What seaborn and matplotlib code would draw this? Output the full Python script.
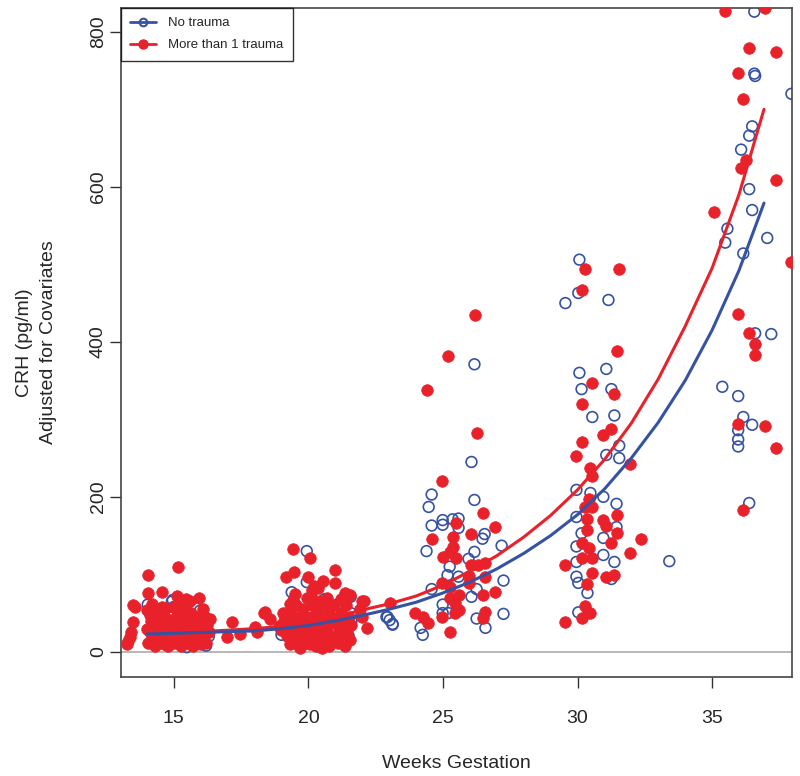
import matplotlib
matplotlib.use("Agg")
import matplotlib.pyplot as plt
from matplotlib.lines import Line2D
import numpy as np
import pandas as pd
import seaborn as sns

# ---- observed points (weeks, CRH) ----
weeks_no = [14.03, 14.96, 14.93, 15.97, 15.93, 15.48, 15.0, 14.5, 16.3, 16.2, 15.2, 14.6,
            19.94, 19.38, 19.94, 20.6, 21.12, 21.57, 22.9, 23.02, 23.13, 20.6, 19.0, 20.0,
            21.5, 21.6, 21.58, 20.9, 22.94, 23.13,
            26.17, 24.58, 24.47, 26.17, 24.99, 25.36, 25.58, 24.58, 24.99, 25.58, 26.55, 26.47,
            27.18, 24.39, 26.17, 25.95, 25.25, 25.17, 25.58, 24.58, 26.25, 26.06, 27.25, 24.99,
            24.99, 25.2, 26.25, 26.58, 24.17, 24.25, 27.25, 26.06,
            30.07, 30.03, 29.55, 31.15, 30.07, 31.07, 30.15, 31.26, 30.55, 31.37, 31.55, 31.07,
            31.55, 29.96, 30.48, 30.96, 31.45, 29.96, 31.45, 30.15, 30.96, 29.96, 30.96, 31.37,
            29.96, 33.41, 30.37, 29.96, 30.03, 31.26, 30.03,
            36.57, 36.57, 36.6, 37.95, 36.49, 36.38, 36.08, 36.38, 36.49, 35.57, 35.49, 37.05,
            36.16, 36.6, 37.2, 35.38, 35.97, 36.16, 36.49, 35.97, 35.97, 35.97, 36.38]
crh_no = [61, 67, 65, 53, 41, 6, 58, 20, 20, 8, 45, 30,
          130, 77, 90, 68, 62, 71, 45, 41, 36, 10, 22, 20,
          20, 40, 50, 15, 45, 35,
          371, 203, 187, 196, 170, 171, 172, 163, 164, 160, 152, 146,
          137, 130, 129, 120, 110, 99, 97, 81, 81, 71, 92, 61,
          50, 50, 43, 31, 31, 22, 49, 245,
          506, 463, 450, 454, 360, 365, 339, 339, 303, 305, 266, 254,
          250, 209, 205, 200, 191, 174, 161, 153, 147, 136, 125, 116,
          116, 117, 76, 97, 89, 94, 51,
          826, 746, 743, 720, 678, 666, 648, 597, 570, 546, 528, 534,
          514, 411, 410, 342, 330, 303, 293, 286, 274, 265, 192]

weeks_tr = [13.25, 13.37, 13.48, 13.48, 13.55, 13.3, 13.4, 14.03, 14.03, 14.0, 14.55, 14.55,
            14.05, 14.1, 14.15, 14.2, 14.25, 14.3, 14.35, 14.4, 14.45, 14.5, 14.55, 14.6,
            14.65, 14.7, 14.75, 14.8, 14.85, 14.2, 14.4, 14.6, 14.1, 14.3, 14.5, 14.7,
            14.9, 14.0, 14.8, 14.25, 14.65,
            15.15, 15.93, 15.0, 15.05, 15.1, 15.15, 15.2, 15.25, 15.3, 15.35, 15.4, 15.45,
            15.5, 15.55, 15.6, 15.65, 15.7, 15.75, 15.8, 15.85, 15.0, 15.2, 15.4, 15.6,
            15.8, 15.1, 15.3, 15.5, 15.7, 15.9, 15.15, 15.45, 15.65,
            16.0, 16.05, 16.1, 16.15, 16.2, 16.25, 16.3, 16.1, 16.34, 16.0,
            17.15, 16.97, 17.45, 18.0, 18.34, 18.56, 18.38, 18.08,
            19.42, 20.05, 19.16, 19.46, 19.97, 20.98, 20.98, 20.53, 20.35, 21.35, 21.53, 22.05,
            23.02, 19.05, 19.42, 20.12,
            19.2, 19.25, 19.3, 19.35, 19.4, 19.45, 19.5, 19.55, 19.6, 19.65, 19.7, 19.75,
            19.8, 19.85, 19.9, 19.95, 19.5, 19.3, 19.7, 19.9, 19.0, 19.1, 18.9,
            20.0, 20.05, 20.1, 20.15, 20.2, 20.25, 20.3, 20.35, 20.4, 20.45, 20.5, 20.55,
            20.6, 20.65, 20.7, 20.75, 20.8, 20.85, 20.9, 20.95, 20.1, 20.3, 20.5, 20.7, 20.2,
            21.1, 21.15, 21.2, 21.25, 21.3, 21.35, 21.4, 21.45, 21.5, 21.55, 21.6, 21.2,
            21.4, 21.9, 22.0, 21.1, 22.0, 22.16,
            24.95, 26.47, 26.95, 25.47, 24.58, 25.36, 26.06, 25.36, 24.99, 25.47, 25.25, 26.06,
            26.32, 26.58, 25.95, 26.58, 25.95, 24.95, 25.25, 26.95, 26.47, 25.58, 25.25, 25.43,
            25.58, 25.43, 23.95, 24.25, 24.43, 24.95, 26.58, 26.47, 25.25,
            25.17, 24.39, 26.25, 26.2,
            30.29, 31.55, 30.15, 31.45, 30.55, 31.37, 30.15, 31.26, 30.96, 30.15, 29.96, 31.96,
            30.48, 30.55, 30.44, 30.29, 30.55, 30.37, 31.45, 30.96, 31.07, 30.37, 31.45, 32.37,
            31.26, 30.15, 30.44, 31.96, 30.15, 30.55, 29.55,
            30.37, 30.55, 31.07, 31.37, 30.26, 30.48, 30.15, 29.55,
            35.49, 36.98, 36.38, 37.38, 35.97, 36.16, 36.27, 36.09, 37.38, 35.08, 37.95,
            35.97, 36.38, 36.6, 36.6, 35.97, 36.98, 37.38, 36.16]
crh_tr = [10, 19, 39, 61, 58, 14, 25, 99, 76, 54, 77, 58,
          12, 25, 40, 18, 55, 8, 30, 47, 15, 35, 22, 50,
          10, 28, 42, 17, 33, 62, 20, 38, 48, 13, 27, 57,
          21, 30, 8, 33, 45,
          110, 70, 12, 30, 48, 20, 62, 8, 38, 25, 55, 15,
          42, 30, 10, 50, 22, 35, 14, 45, 58, 40, 33, 65,
          28, 72, 18, 52, 7, 25, 35, 68, 40,
          10, 30, 20, 45, 12, 35, 25, 55, 43, 40,
          39, 19, 23, 32, 50, 42, 52, 26,
          133, 121, 97, 103, 97, 106, 89, 92, 83, 76, 74, 66,
          63, 50, 67, 80,
          20, 35, 10, 50, 25, 40, 15, 60, 30, 8, 45, 20,
          55, 35, 12, 70, 75, 62, 5, 42, 28, 40, 33,
          25, 10, 45, 60, 18, 35, 8, 52, 28, 65, 15, 40,
          22, 55, 32, 8, 48, 20, 38, 60, 72, 40, 5, 70, 85,
          12, 30, 50, 20, 40, 8, 60, 25, 45, 15, 35, 68,
          75, 55, 45, 40, 65, 31,
          221, 179, 161, 166, 146, 148, 152, 135, 123, 121, 129, 112,
          112, 115, 98, 97, 89, 89, 84, 77, 73, 73, 69, 63,
          54, 50, 50, 45, 37, 45, 52, 44, 25,
          382, 338, 283, 435,
          494, 494, 467, 388, 347, 333, 320, 288, 280, 271, 253, 242,
          237, 227, 197, 187, 187, 172, 176, 170, 163, 157, 153, 146,
          141, 141, 134, 127, 121, 121, 112,
          88, 102, 96, 99, 59, 50, 44, 39,
          827, 831, 779, 774, 747, 713, 635, 624, 609, 567, 503,
          436, 411, 397, 383, 294, 291, 263, 183]

# ---- fitted curves ----
weeks_fit = [14, 15, 16, 17, 18, 19, 20, 21, 22, 23, 24, 25, 26, 27, 28, 29, 30,
             31, 32, 33, 34, 35, 36, 36.93]
fit_no = [23, 24, 25, 26, 27, 30, 34, 40, 47, 55, 64, 76, 90, 107, 127, 150, 177,
          210, 250, 296, 350, 415, 492, 579]
fit_tr = [24, 25, 26, 28, 30, 33, 38, 45, 54, 62, 72, 86, 104, 124, 148, 176, 209,
          248, 295, 352, 420, 495, 590, 700]

blue = "#3653A3"
red = "#E8212B"

sns.set_style("ticks")
plt.rcParams["font.family"] = ["Liberation Sans", "DejaVu Sans"]

fig = plt.figure(figsize=(8, 7.76), dpi=100)
ax = fig.add_axes([0.151, 0.128, 0.839, 0.862])

df_no = pd.DataFrame({"weeks": weeks_no, "crh": crh_no})
df_tr = pd.DataFrame({"weeks": weeks_tr, "crh": crh_tr})

ax.axhline(0, color="#AAAAAA", lw=1.2, zorder=0)

sns.scatterplot(data=df_no, x="weeks", y="crh", ax=ax, marker="o", s=60,
                facecolor="none", edgecolor=blue, linewidth=1.2, zorder=2)
sns.scatterplot(data=df_tr, x="weeks", y="crh", ax=ax, marker="o", s=70,
                color=red, edgecolor=red, linewidth=0.5, zorder=3)

fit = pd.DataFrame({"weeks": weeks_fit, "no": fit_no, "tr": fit_tr})
sns.lineplot(data=fit, x="weeks", y="tr", ax=ax, color=red, lw=2.2, zorder=4)
sns.lineplot(data=fit, x="weeks", y="no", ax=ax, color=blue, lw=2.2, zorder=5)

ax.set_xlim(13.03, 37.97)
ax.set_ylim(-32, 831)
ax.set_xticks([15, 20, 25, 30, 35])
ax.set_yticks([0, 200, 400, 600, 800])
ax.tick_params(axis="both", labelsize=14, length=8, width=1, color="#333333")
ax.tick_params(axis="x", pad=16)
ax.tick_params(axis="y", pad=2)
for lab in ax.get_yticklabels():
    lab.set_rotation(90)
    lab.set_va("center")
ax.set_xlabel("Weeks Gestation", fontsize=14, labelpad=20)
ax.set_ylabel("CRH (pg/ml)\nAdjusted for Covariates", fontsize=14, labelpad=24,
              linespacing=1.5)
for sp in ax.spines.values():
    sp.set_visible(True)
    sp.set_color("#444444")
    sp.set_linewidth(1.2)

handles = [Line2D([], [], color=blue, lw=2, marker="o", markersize=5.5,
                  markerfacecolor="none", markeredgewidth=1.5),
           Line2D([], [], color=red, lw=2, marker="o", markersize=6.5)]
leg = ax.legend(handles, ["No trauma", "More than 1 trauma"], loc="upper left",
                fontsize=9.5, frameon=True, fancybox=False, borderaxespad=0,
                handlelength=2.0, handletextpad=0.9, borderpad=0.7, labelspacing=0.75)
leg.get_frame().set_edgecolor("black")
leg.get_frame().set_linewidth(1)

fig.savefig("out.png", dpi=100)
